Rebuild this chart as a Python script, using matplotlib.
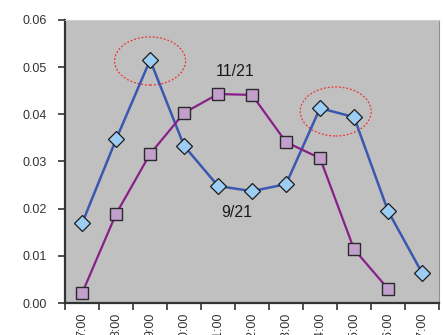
import numpy as np
import matplotlib
matplotlib.use('Agg')
import matplotlib.pyplot as plt
from matplotlib.patches import Ellipse

plt.rcParams['font.family'] = ['Liberation Sans', 'DejaVu Sans']

hours = ['7:00', '8:00', '9:00', '10:00', '11:00', '12:00',
         '13:00', '14:00', '15:00', '16:00', '17:00']
sep21 = [0.0169, 0.0347, 0.0515, 0.0333, 0.0248, 0.0237,
         0.0252, 0.0413, 0.0394, 0.0195, 0.0064]
nov21 = [0.0021, 0.0189, 0.0316, 0.0403, 0.0443, 0.0441,
         0.0341, 0.0307, 0.0114, 0.0030, np.nan]

fig = plt.figure(figsize=(4.43, 3.35), dpi=100)
ax = fig.add_axes([0.147, 0.0955, 0.844, 0.845])
ax.set_facecolor('#c0c0c0')

x = np.arange(len(hours))
ax.plot(x, sep21, color='#3a58b0', linewidth=1.8, marker='D', markersize=8,
        markerfacecolor='#9dcdf2', markeredgecolor='#1a1a1a', markeredgewidth=0.9, zorder=3)
ax.plot(x, nov21, color='#88208a', linewidth=1.6, marker='s', markersize=9,
        markerfacecolor='#c2a0cc', markeredgecolor='#2a2a2a', markeredgewidth=1.0, zorder=3)

# dotted rings around the two peaks
for cx, cy, w, h in [(2.0, 0.0513, 2.09, 0.0102), (7.46, 0.0406, 2.09, 0.0104)]:
    ax.add_patch(Ellipse((cx, cy), w, h, fill=False, edgecolor='#ee3333',
                         linestyle=(0, (1.5, 1.5)), linewidth=0.9, zorder=2))

ax.text(4.5, 0.0490, '11/21', ha='center', va='center', fontsize=11.5, color='#1a1a1a')
ax.text(4.55, 0.0192, '9/21', ha='center', va='center', fontsize=11.5, color='#1a1a1a')

ax.set_xlim(-0.5, len(hours) - 0.5)
ax.set_ylim(0, 0.06)
ax.set_yticks(np.arange(0, 0.061, 0.01))
ax.set_yticklabels([f'{v:.2f}' for v in np.arange(0, 0.061, 0.01)], fontsize=9, color='#333333')

ax.set_xticks(np.arange(-0.5, len(hours), 1.0))
ax.set_xticklabels([])
ax.set_xticks(x, minor=True)
ax.set_xticklabels(hours, minor=True, rotation=90, fontsize=9, color='#333333')
ax.tick_params(axis='x', which='major', length=5, width=1.2, color='#333333')
ax.tick_params(axis='x', which='minor', length=0, pad=7)
ax.tick_params(axis='y', length=5, width=1.2, color='#333333', pad=8)

for side in ['left', 'bottom']:
    ax.spines[side].set_linewidth(1.6)
    ax.spines[side].set_color('#333333')
ax.spines['top'].set_color('#d0d0d0')
ax.spines['right'].set_color('#909090')

fig.savefig('out.png', dpi=100)
